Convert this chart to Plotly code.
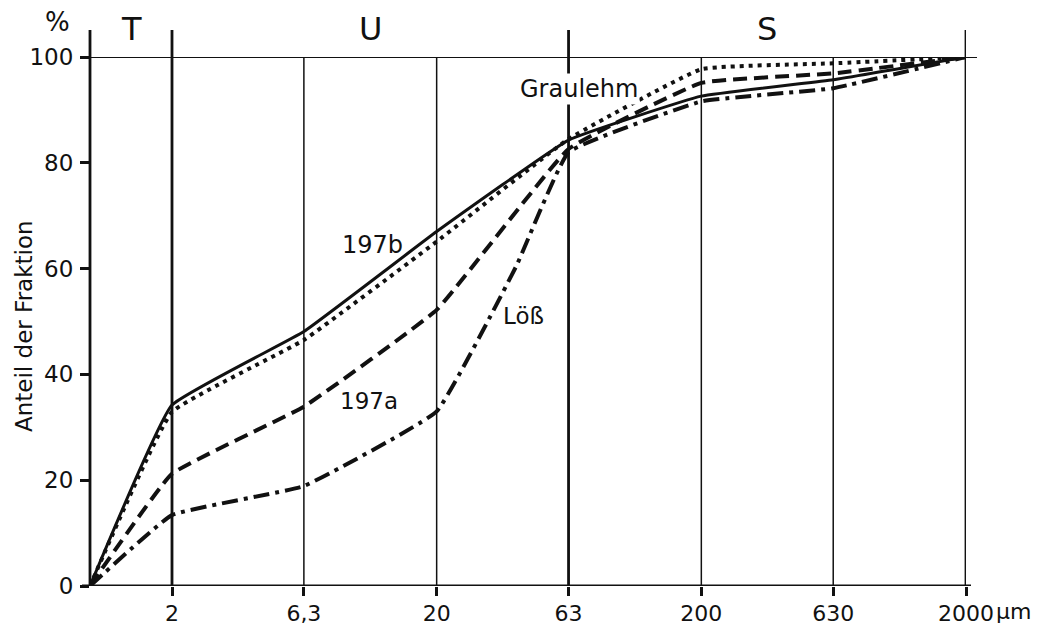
import math
import plotly.graph_objects as go

# ---- data ----
x_start = 0.98  # axis origin (µm)
grain_sizes = [x_start, 2, 6.3, 20, 63, 200, 630, 2000]
loess_sizes = [x_start, 2, 6.3, 20, 40, 63, 200, 630, 2000]
tick_vals = [2, 6.3, 20, 63, 200, 630, 2000]
tick_text = ["2", "6,3", "20", "63", "200", "630", "2000"]
fraction_bounds = [2, 63, 2000]          # T/U and U/S boundaries + end
fine_lines = [6.3, 20, 200, 630]

graulehm = [0, 32.9, 46.5, 65.1, 84.5, 97.7, 98.8, 100]
s197b = [0, 34.2, 48.1, 67.0, 84.3, 92.6, 95.7, 100]
s197a = [0, 21.2, 33.9, 52.2, 82.6, 95.1, 96.9, 100]
loess = [0, 13.4, 18.9, 33.0, 60.5, 82.0, 91.6, 94.1, 100]

y_ticks = [0, 20, 40, 60, 80, 100]
right_ticks = [20, 40, 60, 80]

FONT = "DejaVu Sans"
BLACK = "#111111"

# plot area in pixels
L, R, T, B = 90, 966, 57, 586
W, H = 1051, 628


def px_x(p):
    return (p - L) / (R - L)


def px_y(p):
    return (B - p) / (B - T)


fig = go.Figure()

series = [
    ("197b", grain_sizes, s197b, "solid", 3.0),
    ("Graulehm", grain_sizes, graulehm, "4px,5px", 4.0),
    ("197a", grain_sizes, s197a, "14px,7px", 4.0),
    ("Löß", loess_sizes, loess, "16px,6px,4px,6px", 4.0),
]
for name, xs, vals, dash, w in series:
    fig.add_trace(go.Scatter(
        x=xs, y=vals, mode="lines", name=name,
        line=dict(color=BLACK, width=w, dash=dash, shape="spline", smoothing=0.3),
        showlegend=False, hoverinfo="skip",
    ))

shapes = []
# thin internal vertical lines
for v in fine_lines:
    shapes.append(dict(type="line", xref="x", yref="y", x0=v, x1=v, y0=0, y1=100,
                       line=dict(color=BLACK, width=1.5), layer="below"))
# thick boundary lines that extend above the frame
top_ext = px_y(30)
for v in fraction_bounds:
    shapes.append(dict(type="line", xref="x", yref="paper", x0=v, x1=v, y0=0, y1=top_ext,
                       line=dict(color=BLACK, width=2.8), layer="below"))
# left axis line extended upwards
shapes.append(dict(type="line", xref="paper", yref="paper", x0=0, x1=0, y0=0, y1=top_ext,
                   line=dict(color=BLACK, width=2.8), layer="below"))
# top line at 100 %
shapes.append(dict(type="line", xref="paper", yref="y", x0=px_x(82), x1=px_x(977), y0=100, y1=100,
                   line=dict(color=BLACK, width=2.2), layer="below"))
# bottom axis line
shapes.append(dict(type="line", xref="paper", yref="y", x0=px_x(82), x1=px_x(971), y0=0, y1=0,
                   line=dict(color=BLACK, width=2.8), layer="below"))


def label(txt, xc, yc, size, **kw):
    d = dict(text=txt, xref="paper", yref="paper", x=px_x(xc), y=px_y(yc),
             xanchor="center", yanchor="middle", showarrow=False,
             font=dict(family=FONT, size=size, color=BLACK))
    d.update(kw)
    return d


annotations = []
# fraction labels T, U, S
for txt, xc in [("T", 131), ("U", 370), ("S", 767)]:
    annotations.append(label(txt, xc, 29, 32))
annotations.append(label("%", 57, 22, 26))
annotations.append(label("µm", 1013, 611, 22))
# curve labels
annotations.append(label("Graulehm", 579, 89, 24, bgcolor="white", borderpad=1))
annotations.append(label("197b", 372, 245, 24))
annotations.append(label("197a", 369, 401, 23))
annotations.append(label("Löß", 523, 316, 23))
# y-axis title
annotations.append(label("Anteil der Fraktion", 24, 326, 23, textangle=-90))

fig.update_layout(
    width=W, height=H,
    margin=dict(l=L, r=W - R, t=T, b=H - B, autoexpand=False),
    paper_bgcolor="white", plot_bgcolor="white",
    font=dict(family=FONT, color=BLACK),
    xaxis=dict(type="log", range=[math.log10(x_start), math.log10(2000)],
               tickmode="array", tickvals=tick_vals, ticktext=tick_text,
               ticks="outside", ticklen=9,
               tickwidth=2.5, tickcolor=BLACK, showgrid=False, zeroline=False,
               showline=False, automargin=False, ticklabelstandoff=-1,
               tickfont=dict(family=FONT, size=22, color=BLACK)),
    yaxis=dict(range=[0, 100], tickvals=y_ticks, ticks="outside", ticklen=9,
               tickwidth=2.5, tickcolor=BLACK, showgrid=False, zeroline=False,
               showline=False, automargin=False, ticklabelstandoff=2,
               tickfont=dict(family=FONT, size=23, color=BLACK)),
    yaxis2=dict(range=[0, 100], overlaying="y", side="right", anchor="x",
                tickvals=right_ticks, ticks="outside", ticklen=10, tickwidth=2.5,
                tickcolor=BLACK, showticklabels=False, showgrid=False,
                zeroline=False, showline=False, automargin=False),
    shapes=shapes,
    annotations=annotations,
)

fig.write_html("out.html")
